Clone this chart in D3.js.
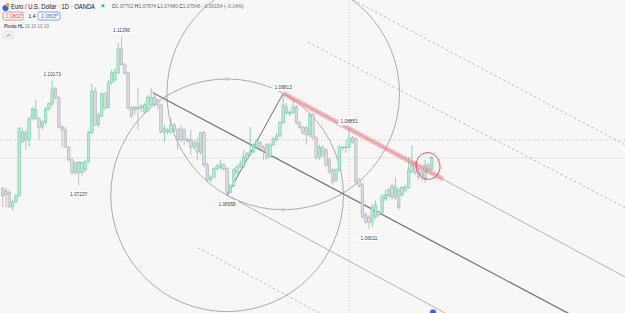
<!DOCTYPE html>
<html><head><meta charset="utf-8">
<script src="https://cdn.jsdelivr.net/npm/d3@7/dist/d3.min.js"></script>
<style>html,body{margin:0;padding:0;background:#f7f7f7;overflow:hidden}svg{display:block}</style>
</head><body><div id="chart"></div>
<script>
const W = 625, H = 313;
const openP = [
1.0714,1.0708,1.0703,1.0663,1.0677,1.0694,1.0873,1.0851,1.0851,1.0910,
1.0912,1.0910,1.0887,1.0901,1.0938,1.0952,1.0994,1.0969,1.0887,1.0879,
1.0831,1.0795,1.0759,1.0787,1.0759,1.0767,1.0789,1.0871,1.0988,1.0893,
1.0918,1.0980,1.0941,1.1011,1.1019,1.1039,1.1106,1.1061,1.1039,1.0941,
1.0935,1.0943,1.0941,1.0929,1.0935,1.0949,1.0971,1.0963,1.0949,1.0873,
1.0873,1.0873,1.0893,1.0879,1.0882,1.0879,1.0848,1.0851,1.0831,1.0843,
1.0817,1.0871,1.0781,1.0739,1.0747,1.0770,1.0773,1.0781,1.0770,1.0703,
1.0722,1.0761,1.0775,1.0775,1.0798,1.0809,1.0817,1.0831,1.0843,1.0831,
1.0837,1.0803,1.0837,1.0851,1.0862,1.0899,1.0943,1.0924,1.0927,1.0943,
1.0899,1.0887,1.0885,1.0865,1.0921,1.0857,1.0801,1.0829,1.0823,1.0795,
1.0767,1.0739,1.0767,1.0829,1.0829,1.0831,1.0857,1.0854,1.0739,1.0725,
1.0641,1.0635,1.0621,1.0635,1.0649,1.0647,1.0686,1.0694,1.0722,1.0689,
1.0711,1.0697,1.0711,1.0717,1.0761,1.0787,1.0767,1.0761,1.0739,1.0781,1.0767];
const highP = [
1.0719,1.0717,1.0711,1.0683,1.0700,1.0887,1.0887,1.0879,1.0915,1.0943,
1.0963,1.0915,1.0907,1.0943,1.0957,1.10173,1.0999,1.0974,1.0893,1.0887,
1.0834,1.0801,1.0789,1.0792,1.0789,1.0795,1.0876,1.1008,1.0999,1.0927,
1.0985,1.0985,1.1019,1.1047,1.1053,1.1123,1.11396,1.1067,1.1041,1.0946,
1.0946,1.0997,1.0952,1.0955,1.0977,1.0997,1.0977,1.0966,1.0952,1.0893,
1.0885,1.0913,1.0899,1.0885,1.0893,1.0885,1.0857,1.0879,1.0851,1.0857,
1.0873,1.0876,1.0787,1.0753,1.0775,1.0784,1.0795,1.0787,1.0775,1.0728,
1.0773,1.0781,1.0795,1.0823,1.0817,1.0887,1.0843,1.0854,1.0848,1.0837,
1.0843,1.0843,1.0859,1.0871,1.0904,1.09813,1.0955,1.0935,1.0963,1.0949,
1.0904,1.0890,1.0890,1.0927,1.0927,1.0862,1.0837,1.0837,1.0829,1.0801,
1.0773,1.0773,1.0837,1.0834,1.0851,1.08851,1.0862,1.0859,1.0745,1.0731,
1.0647,1.0641,1.0669,1.0683,1.0655,1.0700,1.0711,1.0717,1.0728,1.0747,
1.0717,1.0722,1.0725,1.0803,1.0837,1.0792,1.0773,1.0767,1.0795,1.0787,1.0806];
const lowP = [
1.0663,1.0663,1.0661,1.0652,1.0675,1.0691,1.0843,1.0823,1.0831,1.0907,
1.0907,1.0851,1.0879,1.0893,1.0932,1.0946,1.0963,1.0885,1.0831,1.0829,
1.0789,1.0753,1.0753,1.07237,1.0750,1.0761,1.0787,1.0868,1.0890,1.0887,
1.0915,1.0935,1.0938,1.1005,1.1013,1.1036,1.1058,1.1033,1.0935,1.0913,
1.0921,1.0879,1.0929,1.0924,1.0929,1.0946,1.0943,1.0935,1.0868,1.0845,
1.0865,1.0868,1.0873,1.0823,1.0845,1.0837,1.0843,1.0809,1.0823,1.0795,
1.0809,1.0773,1.0731,1.0733,1.0745,1.0764,1.0767,1.0764,1.06958,1.0700,
1.0717,1.0753,1.0773,1.0773,1.0795,1.0806,1.0815,1.0829,1.0826,1.0795,
1.0795,1.0801,1.0834,1.0848,1.0859,1.0896,1.0921,1.0918,1.0924,1.0893,
1.0882,1.0865,1.0837,1.0859,1.0851,1.0795,1.0795,1.0803,1.0775,1.0756,
1.0725,1.0733,1.0761,1.0823,1.0815,1.0826,1.0840,1.0728,1.0717,1.0630,
1.0616,1.06011,1.0607,1.0630,1.0635,1.0641,1.0680,1.0689,1.0683,1.0683,
1.0655,1.0691,1.0705,1.0714,1.0759,1.0753,1.0739,1.0736,1.0731,1.0761,1.0764];
const closeP = [
1.0694,1.0697,1.0663,1.0677,1.0694,1.0882,1.0845,1.0871,1.0910,1.0938,
1.0936,1.0887,1.0901,1.0938,1.0952,1.0994,1.0969,1.0887,1.0879,1.0831,
1.0795,1.0759,1.0787,1.0759,1.0787,1.0789,1.0871,1.0988,1.0893,1.0921,
1.0980,1.0941,1.1011,1.1039,1.1041,1.1106,1.1061,1.1039,1.0941,1.0918,
1.0943,1.0938,1.0946,1.0949,1.0971,1.0971,1.0949,1.0949,1.0873,1.0882,
1.0879,1.0893,1.0879,1.0851,1.0851,1.0851,1.0851,1.0831,1.0843,1.0817,
1.0871,1.0781,1.0739,1.0747,1.0770,1.0778,1.0781,1.0770,1.0703,1.0722,
1.0767,1.0775,1.0784,1.0803,1.0812,1.0817,1.0837,1.0848,1.0831,1.0820,
1.0801,1.0837,1.0854,1.0862,1.0899,1.0949,1.0927,1.0927,1.0943,1.0899,
1.0887,1.0871,1.0865,1.0921,1.0857,1.0801,1.0831,1.0809,1.0781,1.0761,
1.0733,1.0767,1.0831,1.0831,1.0831,1.0857,1.0845,1.0733,1.0722,1.0635,
1.0621,1.0619,1.0663,1.0669,1.0641,1.0694,1.0697,1.0711,1.0689,1.0719,
1.0661,1.0717,1.0719,1.0767,1.0781,1.0759,1.0745,1.0750,1.0781,1.0767,1.0801];

// pivot points: [bar index, type]
const pivotIdx = [15, 23, 36, 68, 85, 105, 111];
const pivotType = ["H","L","H","L","H","H","L"];

// drawings in (bar index, price)
const channelMid = [[45.5, 1.0983], [171, 1.0367]];
const channelUp = [[85, 1.09813], [188.6, 1.0467]];
const channelLow = [[68, 1.06958], [133.9, 1.0367]];
const redBandEnd = 133.4;
const dashA = [[59.2, 1.0549], [95.8, 1.0367]];
const dashB = [[92.5, 1.1125], [188.6, 1.0661]];
const dashC = [[106.2, 1.1243], [188.6, 1.0837]];
const swingLine = [[68, 1.06958], [85, 1.09813]];
const crossIdx = 105, crossPrice = 1.0851, lastPrice = 1.0801;
const markEllipse = [128.9, 1.0778];

const x = d3.scaleLinear().domain([0, 130]).range([2.7, 431.7]);
const y = d3.scaleLinear().domain([1.0366, 1.1243]).range([H, 0]);

const svg = d3.select("#chart").append("svg").attr("width", W).attr("height", H)
  .style("font-family", "'Liberation Sans', Arial, sans-serif");
svg.append("rect").attr("width", W).attr("height", H).attr("fill", "#f7f7f7");

const P = p => [x(p[0]), y(p[1])];
function ray(g, pts, attrs) {
  const a = P(pts[0]), b = P(pts[1]);
  const t = 4;
  const l = g.append("line").attr("x1", a[0]).attr("y1", a[1])
    .attr("x2", a[0] + (b[0]-a[0])*t).attr("y2", a[1] + (b[1]-a[1])*t);
  for (const k in attrs) l.attr(k, attrs[k]);
  return l;
}

// crosshair / price lines
svg.append("line").attr("x1", 0).attr("x2", W).attr("y1", y(crossPrice)).attr("y2", y(crossPrice))
  .attr("stroke", "#c4c4c4").attr("stroke-dasharray", "1.2,1.8").attr("stroke-width", 0.9);
svg.append("line").attr("x1", 0).attr("x2", W).attr("y1", y(lastPrice)).attr("y2", y(lastPrice))
  .attr("stroke", "#e2e2e2").attr("stroke-width", 0.8);
svg.append("line").attr("x1", x(crossIdx)).attr("x2", x(crossIdx)).attr("y1", 0).attr("y2", H)
  .attr("stroke", "#c4c4c4").attr("stroke-dasharray", "1.2,1.8").attr("stroke-width", 0.9);

const dg = svg.append("g");
// dashed lines
[dashA, dashB, dashC].forEach(d => ray(dg, d, {stroke: "#b4b4b4", "stroke-width": 0.9, "stroke-dasharray": "2.5,2.5"}));

// circles
const cA = P([85, 1.09813]), cB = P([68, 1.06958]);
const R = Math.hypot(cA[0]-cB[0], cA[1]-cB[1]);
dg.append("circle").attr("cx", cA[0]).attr("cy", cA[1]).attr("r", R).attr("fill", "none").attr("stroke", "#a3a3a8").attr("stroke-width", 0.9);
dg.append("circle").attr("cx", cB[0]).attr("cy", cB[1]).attr("r", R).attr("fill", "none").attr("stroke", "#a3a3a8").attr("stroke-width", 0.9);
[[cB[0], cB[1]-R], [cA[0], cA[1]+R]].forEach(h => dg.append("circle").attr("cx", h[0]).attr("cy", h[1]).attr("r", 1.2)
  .attr("fill", "#f7f7f7").attr("stroke", "#a3a3a8").attr("stroke-width", 0.7));

// channel
ray(dg, channelUp, {stroke: "#a3a3a8", "stroke-width": 0.8});
ray(dg, channelLow, {stroke: "#a3a3a8", "stroke-width": 0.8});
ray(dg, channelMid, {stroke: "#77777c", "stroke-width": 1.3});
// swing line
{
  const a = P(swingLine[0]), b = P(swingLine[1]);
  dg.append("line").attr("x1", a[0]).attr("y1", a[1]).attr("x2", b[0]).attr("y2", b[1])
    .attr("stroke", "#6f6f74").attr("stroke-width", 1);
}

// candles
const cg = svg.append("g");
openP.forEach((o, i) => {
  const c = closeP[i], up = c >= o;
  const cx = x(i);
  cg.append("line").attr("x1", cx).attr("x2", cx).attr("y1", y(highP[i])).attr("y2", y(lowP[i]))
    .attr("stroke", up ? "#6ccfa5" : "#b0b2ba").attr("stroke-width", 0.8);
  const top = y(Math.max(o, c)), bot = y(Math.min(o, c));
  cg.append("rect").attr("x", cx - 1.3).attr("width", 2.6).attr("y", top).attr("height", Math.max(bot - top, 0.8))
    .attr("fill", up ? "#b9e8d2" : "#d9dae0").attr("stroke", up ? "#62c89c" : "#a4a6b0").attr("stroke-width", 0.5);
});

// red band over upper line
{
  const a = P(channelUp[0]), b = P(channelUp[1]);
  const t = (x(redBandEnd) - a[0]) / (b[0] - a[0]);
  svg.append("line").attr("x1", a[0]).attr("y1", a[1]).attr("x2", a[0] + (b[0]-a[0])*t).attr("y2", a[1] + (b[1]-a[1])*t)
    .attr("stroke", "rgba(242,54,69,0.4)").attr("stroke-width", 5);
  svg.append("line").attr("x1", a[0]).attr("y1", a[1]).attr("x2", a[0] + (b[0]-a[0])*t).attr("y2", a[1] + (b[1]-a[1])*t)
    .attr("stroke", "rgba(255,255,255,0.45)").attr("stroke-width", 5).attr("stroke-dasharray", "0.8,1.2");
}

// freehand red ellipse
svg.append("ellipse").attr("cx", x(markEllipse[0])).attr("cy", y(markEllipse[1])).attr("rx", 12).attr("ry", 13.5)
  .attr("transform", `rotate(-10,${x(markEllipse[0])},${y(markEllipse[1])})`)
  .attr("fill", "none").attr("stroke", "#f04a55").attr("stroke-width", 0.9);

// pivot labels
const lg = svg.append("g");
pivotIdx.forEach((i, k) => {
  const isH = pivotType[k] === "H";
  const v = isH ? highP[i] : lowP[i];
  const cy = isH ? y(v) - 6.5 : y(v) + 9;
  const cx = x(i);
  lg.append("rect").attr("x", cx - 11).attr("y", cy - 4).attr("width", 22).attr("height", 8).attr("rx", 1.5)
    .attr("fill", "#ffffff").attr("stroke", "#ececec").attr("stroke-width", 0.5);
  lg.append("text").attr("x", cx).attr("y", cy + 1.7).attr("text-anchor", "middle")
    .attr("font-size", 4.8).attr("fill", "#3a3a3a").text(v.toFixed(5));
});

// bottom event icon
svg.append("circle").attr("cx", x(130.4)).attr("cy", H - 0.5).attr("r", 3.2).attr("fill", "#2962ff").attr("stroke", "#f2a3a8").attr("stroke-width", 0.8);

// header
const hg = svg.append("g");
hg.append("circle").attr("cx", 5.5).attr("cy", 8).attr("r", 3).attr("fill", "#2962ff");
hg.append("circle").attr("cx", 7.5).attr("cy", 5).attr("r", 2).attr("fill", "#f5a623");
hg.append("text").attr("x", 11).attr("y", 8.8).attr("font-size", 7).attr("fill", "#131722")
  .attr("textLength", 84).attr("lengthAdjust", "spacingAndGlyphs")
  .text("Euro / U.S. Dollar · 1D · OANDA");
hg.append("circle").attr("cx", 103).attr("cy", 5.8).attr("r", 2.6).attr("fill", "#d6f2e6");
hg.append("circle").attr("cx", 103).attr("cy", 5.8).attr("r", 1.3).attr("fill", "#22ab94");
const ohlc = hg.append("text").attr("x", 112).attr("y", 7.8).attr("font-size", 4.9).attr("fill", "#131722");
[["O","1.07702"],["H","1.07874"],["L","1.07480"],["C","1.07546"]].forEach(p => {
  ohlc.append("tspan").text(p[0]);
  ohlc.append("tspan").attr("fill", "#6a6d78").text(p[1] + " ");
});
ohlc.append("tspan").attr("fill", "#6a6d78").text("−0.00154 (−0.14%)");

hg.append("rect").attr("x", 3).attr("y", 12).attr("width", 20).attr("height", 8).attr("rx", 1.5)
  .attr("fill", "#ffffff").attr("stroke", "#f23645").attr("stroke-width", 0.6);
const t1 = hg.append("text").attr("x", 5.5).attr("y", 17.8).attr("font-size", 5).attr("fill", "#f23645");
t1.append("tspan").text("1.0802"); t1.append("tspan").attr("font-size", 3.5).attr("dy", -1.5).text("4");
hg.append("text").attr("x", 28.5).attr("y", 17.8).attr("font-size", 5).attr("fill", "#131722").text("1.4");
hg.append("rect").attr("x", 38).attr("y", 12).attr("width", 22).attr("height", 8).attr("rx", 1.5)
  .attr("fill", "#ffffff").attr("stroke", "#2962ff").attr("stroke-width", 0.6);
const t2 = hg.append("text").attr("x", 41).attr("y", 17.8).attr("font-size", 5).attr("fill", "#2962ff");
t2.append("tspan").text("1.0803"); t2.append("tspan").attr("font-size", 3.5).attr("dy", -1.5).text("8");

const piv = hg.append("text").attr("x", 4).attr("y", 27.5).attr("font-size", 4.6).attr("fill", "#131722");
piv.append("tspan").text("Pivots HL ");
piv.append("tspan").attr("fill", "#787b86").text("10 10 10 10");

hg.append("rect").attr("x", 3).attr("y", 31.5).attr("width", 11).attr("height", 7.5).attr("rx", 1.5)
  .attr("fill", "#f0f0f0").attr("stroke", "#e0e0e0").attr("stroke-width", 0.5);
hg.append("path").attr("d", "M6.8,36.3 L8.5,34.4 L10.2,36.3").attr("fill", "none").attr("stroke", "#555").attr("stroke-width", 0.6);
</script></body></html>
